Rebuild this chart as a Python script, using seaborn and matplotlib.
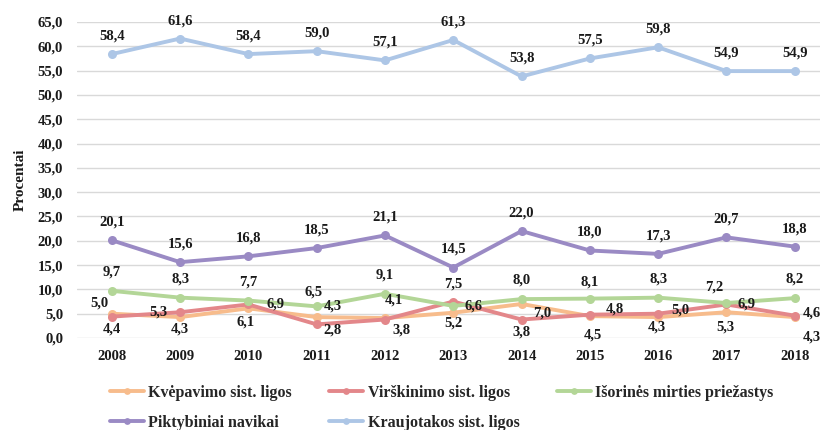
import matplotlib
matplotlib.use("Agg")
import matplotlib.pyplot as plt
import seaborn as sns
import pandas as pd

years = ["2008", "2009", "2010", "2011", "2012", "2013", "2014", "2015", "2016", "2017", "2018"]
series_names = ["Kvėpavimo sist. ligos", "Virškinimo sist. ligos", "Išorinės mirties priežastys",
                "Piktybiniai navikai", "Kraujotakos sist. ligos"]
kvepavimo = [5.0, 4.3, 6.1, 4.3, 4.1, 5.2, 7.0, 4.5, 4.3, 5.3, 4.3]
virskinimo = [4.4, 5.3, 6.9, 2.8, 3.8, 7.5, 3.8, 4.8, 5.0, 6.9, 4.6]
isorines = [9.7, 8.3, 7.7, 6.5, 9.1, 6.6, 8.0, 8.1, 8.3, 7.2, 8.2]
piktybiniai = [20.1, 15.6, 16.8, 18.5, 21.1, 14.5, 22.0, 18.0, 17.3, 20.7, 18.8]
kraujotakos = [58.4, 61.6, 58.4, 59.0, 57.1, 61.3, 53.8, 57.5, 59.8, 54.9, 54.9]
values = [kvepavimo, virskinimo, isorines, piktybiniai, kraujotakos]

colors = ["#F7BC8C", "#E3878A", "#B3D697", "#9A8AC4", "#ADC6E6"]

# label offsets (pixels, right / up) -- styling only
off_default = (0, 18)
offsets = {
    0: [(-12, 11), (0, -12), (-3, -14), (16, 11), (9, 18), (0, -10), (21, -9), (3, -19), (-1, -10), (-1, -15), (17, -20)],
    1: [(0, -12), (-22, 0), (27, 0), (16, -6), (17, -10), (0, 18), (0, -12), (25, 6), (22, 4), (20, 0), (17, 3)],
    2: [(0, 19), (0, 19), (0, 19), (-3, 14), (0, 19), (20, 0), (0, 19), (0, 17), (0, 19), (-12, 16), (0, 19)],
    3: [off_default] * 11,
    4: [off_default] * 11,
}

rows = []
for name, vals in zip(series_names, values):
    for i, v in enumerate(vals):
        rows.append({"pos": i, "value": v, "series": name})
df = pd.DataFrame(rows)

sns.set_theme(style="white")
plt.rcParams["font.family"] = ["Liberation Serif", "DejaVu Serif"]
plt.rcParams["font.weight"] = "bold"

fig = plt.figure(figsize=(8.23, 4.30), dpi=100)
ax = fig.add_axes([77 / 823, 92 / 430, (820 - 77) / 823, 316 / 430])

sns.lineplot(data=df, x="pos", y="value", hue="series", hue_order=series_names,
             palette=colors, marker="o", markersize=6.5, markeredgewidth=0,
             linewidth=2.8, ax=ax, legend=True, zorder=3)

for s, vals in enumerate(values):
    for i, v in enumerate(vals):
        dx, dy = offsets[s][i]
        ax.annotate(f"{v:.1f}".replace(".", ","), xy=(i, v), xytext=(dx, dy),
                    textcoords="offset pixels", ha="center", va="center",
                    fontsize=10.5, fontweight="bold", color="#1a1a1a",
                    zorder=5, annotation_clip=False)

ax.set_xlim(-0.51, 10.37)
ax.set_ylim(0, 65)
yt = [i * 5 for i in range(14)]
ax.set_yticks(yt)
ax.set_yticklabels([f"{t:.1f}".replace(".", ",") for t in yt])
ax.set_xticks(range(len(years)))
ax.set_xticklabels(years)
ax.tick_params(axis="both", length=0, labelsize=10.5, colors="#1a1a1a")
ax.tick_params(axis="y", pad=10)
ax.tick_params(axis="x", pad=9)
for lab in ax.get_xticklabels() + ax.get_yticklabels():
    lab.set_fontweight("bold")
ax.grid(axis="y", color="#D9D9D9", linewidth=1)
ax.grid(axis="x", visible=False)
for sp in ax.spines.values():
    sp.set_visible(False)
ax.set_xlabel("")
ax.set_ylabel("Procentai", fontsize=11, fontweight="bold", color="#1a1a1a", labelpad=8)

handles, labels = ax.get_legend_handles_labels()
ax.legend_.remove()
order = [0, 3, 1, 4, 2]  # row-wise fill: row1 = 0,1,2 ; row2 = 3,4
fig.legend([handles[i] for i in order], [labels[i] for i in order], ncol=3, loc="upper left",
           bbox_to_anchor=(110 / 823, 1 - 385 / 430),
           frameon=False, handlelength=2.1, handletextpad=0.3, markerscale=0.75,
           columnspacing=2.35, labelspacing=0.85, borderpad=0, borderaxespad=0,
           prop={"weight": "bold", "size": 11.5})

fig.savefig("out.png", dpi=100)
